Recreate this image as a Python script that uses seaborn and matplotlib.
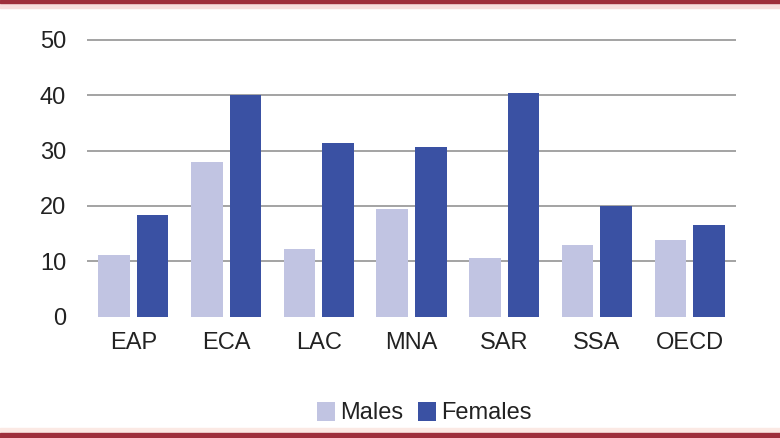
import matplotlib
matplotlib.use("Agg")
import matplotlib.pyplot as plt
import matplotlib.patches as mpatches
import seaborn as sns
import pandas as pd

regions = ["EAP", "ECA", "LAC", "MNA", "SAR", "SSA", "OECD"]
males = [11.1, 28.0, 12.2, 19.4, 10.6, 12.9, 13.9]
females = [18.4, 40.1, 31.4, 30.6, 40.5, 19.9, 16.5]
groups = ["Males", "Females"]
yticks = [0, 10, 20, 30, 40, 50]

df = pd.DataFrame({
    "region": regions * 2,
    "value": males + females,
    "sex": ["Males"] * len(regions) + ["Females"] * len(regions),
})

sns.set_style("white")
plt.rcParams["font.family"] = ["Liberation Sans Narrow", "Liberation Sans", "DejaVu Sans"]

W, H = 780, 438
fig = plt.figure(figsize=(W / 100, H / 100), dpi=100)
ax = fig.add_axes([87 / W, 1 - 316.5 / H, 649 / W, 279.3 / H])

sns.barplot(data=df, x="region", y="value", hue="sex", hue_order=groups,
            palette=["#c1c4e2", "#3a51a3"], width=0.83, gap=0.18,
            saturation=1, linewidth=0, ax=ax)

ax.set_xlim(-0.5, len(regions) - 0.5)
ax.set_ylim(0, 50.5)
ax.set_yticks(yticks)
ax.set_axisbelow(True)
ax.yaxis.grid(True, color="#8a8a8a", linewidth=1.1)
ax.get_ygridlines()[0].set_visible(False)
ax.xaxis.grid(False)
for s in ax.spines.values():
    s.set_visible(False)
ax.set_xlabel("")
ax.set_ylabel("")
ax.tick_params(axis="y", length=0, pad=15, labelsize=17, labelcolor="#222222")
ax.tick_params(axis="x", length=0, pad=11, labelsize=17, labelcolor="#222222")

handles, labels = ax.get_legend_handles_labels()
ax.legend(handles, labels, loc="center", bbox_to_anchor=(424.5 / W, 1 - 413 / H),
          bbox_transform=fig.transFigure, ncol=2, frameon=False, fontsize=17,
          handlelength=0.75, handleheight=0.85, handletextpad=0.25,
          columnspacing=0.6, labelcolor="#222222")

# red frame lines at top and bottom
fig.patches.append(mpatches.Rectangle((0, 1 - 3 / H), 1, 3 / H, transform=fig.transFigure,
                                      color="#9e2f3c", zorder=5))
fig.patches.append(mpatches.Rectangle((0, 1 - 8 / H), 1, 5 / H, transform=fig.transFigure,
                                      color="#f7dede", zorder=4))
fig.patches.append(mpatches.Rectangle((0, 0), 1, 5 / H, transform=fig.transFigure,
                                      color="#9e2f3c", zorder=5))
fig.patches.append(mpatches.Rectangle((0, 5 / H), 1, 5 / H, transform=fig.transFigure,
                                      color="#fbe9e4", zorder=4))

fig.savefig("out.png", dpi=100)
